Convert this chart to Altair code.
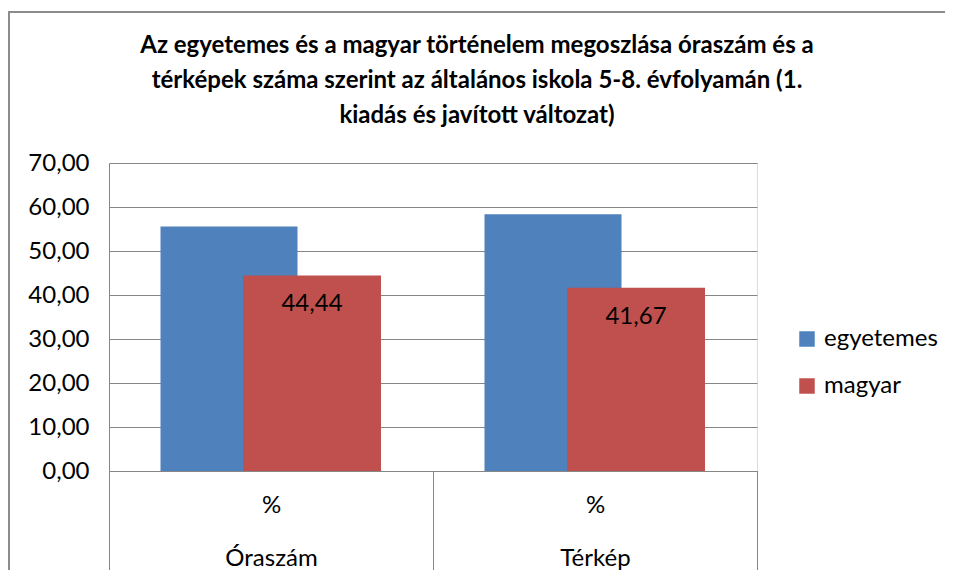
import altair as alt
import pandas as pd

categories = ["Óraszám", "Térkép"]
series = ["egyetemes", "magyar"]
egyetemes = [55.56, 58.33]
magyar = [44.44, 41.67]
colors = ["#4F81BD", "#C0504D"]
title_lines = [
    "Az egyetemes és a magyar történelem megoszlása óraszám és a",
    "térképek száma szerint az általános iskola 5-8. évfolyamán (1.",
    "kiadás és javított változat)",
]

rows = []
for i, c in enumerate(categories):
    rows.append({"kat": c, "sorozat": series[0], "ertek": egyetemes[i]})
    rows.append({"kat": c, "sorozat": series[1], "ertek": magyar[i]})
df = pd.DataFrame(rows)

FONT = "Lato"
FS = 24
W, H = 648, 308
GRAY = "#868686"

x_enc = alt.X(
    "kat:N",
    sort=categories,
    scale=alt.Scale(paddingInner=0, paddingOuter=0),
    axis=alt.Axis(
        title=None,
        labelExpr="datum.value ? ['%', datum.value] : ''",
        labelAngle=0,
        labelFontSize=FS,
        labelFont=FONT,
        labelColor="#000000",
        labelLineHeight=53,
        labelBaseline="top",
        tickBand="extent",
        tickSize=110,
        tickColor=GRAY,
        domainColor=GRAY,
        labelPadding=-88,
        grid=False,
    ),
)
y_enc = alt.Y(
    "ertek:Q",
    scale=alt.Scale(domain=[0, 70], nice=False),
    axis=alt.Axis(
        title=None,
        values=[0, 10, 20, 30, 40, 50, 60, 70],
        labelExpr="replace(format(datum.value, '.2f'), '.', ',')",
        labelFontSize=FS,
        labelFont=FONT,
        labelColor="#000000",
        labelPadding=20,
        ticks=False,
        domainColor=GRAY,
        gridColor=GRAY,
        gridWidth=1,
    ),
)
color_enc = alt.Color(
    "sorozat:N",
    scale=alt.Scale(domain=series, range=colors),
    legend=alt.Legend(
        title=None,
        orient="none",
        legendX=686,
        legendY=164,
        symbolType="square",
        symbolSize=240,
        symbolStrokeWidth=0,
        labelFontSize=FS,
        labelFont=FONT,
        labelColor="#000000",
        rowPadding=23,
        labelOffset=5,
    ),
)

base = alt.Chart(df)
blue = base.transform_filter(alt.datum.sorozat == series[0]).mark_bar(
    width=137, xOffset=-42
).encode(x=x_enc, y=y_enc, color=color_enc)
red = base.transform_filter(alt.datum.sorozat == series[1]).mark_bar(
    width=138, xOffset=41
).encode(x=x_enc, y=y_enc, color=color_enc)
labels = base.transform_filter(alt.datum.sorozat == series[1]).transform_calculate(
    lab="replace(format(datum.ertek, '.2f'), '.', ',')"
).mark_text(
    xOffset=41, dy=29, fontSize=FS, font=FONT, color="#000000", baseline="middle"
).encode(x=x_enc, y=y_enc, text="lab:N")

# outer chart frame (decoration)
frame_top = alt.Chart(df).mark_rule(color="#8c8c8c", strokeWidth=2, clip=False).encode(
    x=alt.value(-100), x2=alt.value(840), y=alt.value(-151)
)
frame_left = alt.Chart(df).mark_rule(color="#8c8c8c", strokeWidth=2, clip=False).encode(
    x=alt.value(-100), y=alt.value(-152), y2=alt.value(420)
)

chart = alt.layer(frame_top, frame_left, blue, red, labels).properties(
    width=W,
    height=H,
    title=alt.Title(
        text=title_lines,
        fontSize=FS,
        font=FONT,
        fontWeight="bold",
        color="#000000",
        lineHeight=35,
        anchor="middle",
        frame="group",
        dx=44,
        offset=-118,
    ),
    autosize=alt.AutoSizeParams(type="none"),
    padding={"left": 101, "top": 155, "right": 188, "bottom": 99},
).configure_view(stroke=None).configure(background="white")

chart.save("out.html", embed_options={"renderer": "svg", "actions": False})
